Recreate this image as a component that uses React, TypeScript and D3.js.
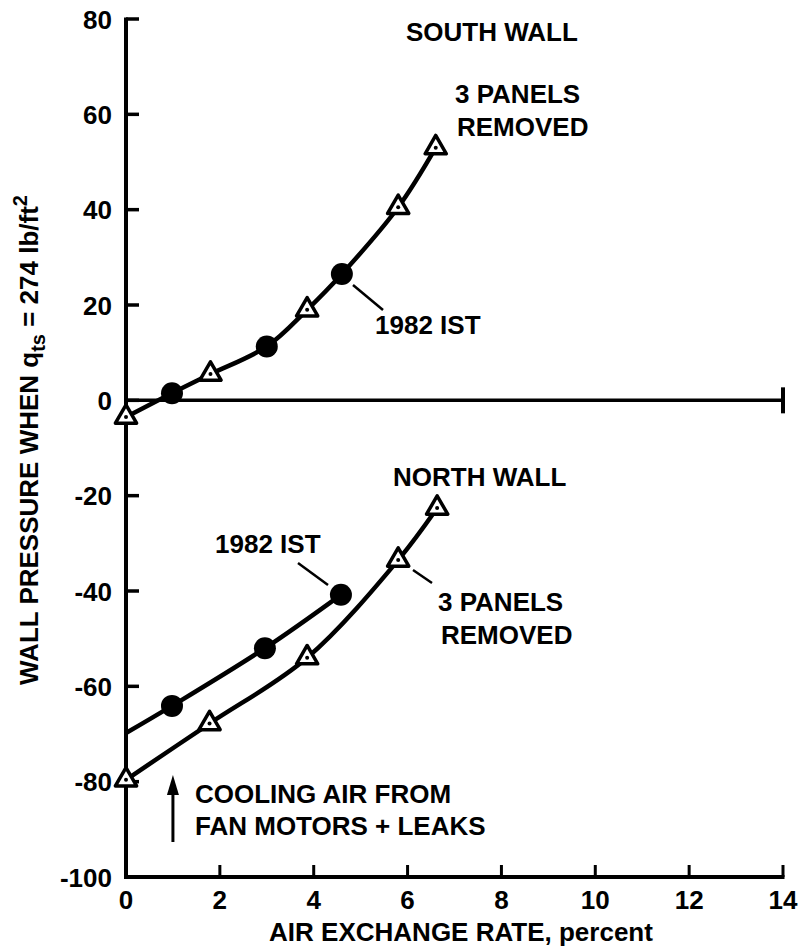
import React from "react";
import * as d3 from "d3";

// Air exchange rate (percent) and wall pressure (lb/ft^2) readings
const southPanelsX = [0, 1.8, 3.86, 5.8, 6.6];
const southPanelsY = [-3.5, 5.5, 19.0, 40.5, 53];
const southIstX = [0.98, 3.0, 4.6];
const southIstY = [1.5, 11.3, 26.5];

const northPanelsX = [0, 1.78, 3.86, 5.8, 6.63];
const northPanelsY = [-79.6, -67.8, -54, -33.5, -22.6];
const northIstX = [0.98, 2.96, 4.58];
const northIstY = [-64.1, -52, -40.8];
// Fitted 1982 IST north-wall curve starts on the pressure axis
const northIstStart = { x: 0, y: -69.8 };

const xTicks = [0, 2, 4, 6, 8, 10, 12, 14];
const yTicks = [80, 60, 40, 20, 0, -20, -40, -60, -80, -100];

const W = 800;
const H = 951;
const FONT = "'Liberation Sans', Arial, Helvetica, sans-serif";

export default function App() {
  const x = d3.scaleLinear().domain([0, 14]).range([126, 783]);
  const y = d3.scaleLinear().domain([-100, 80]).range([877, 19]);

  const line = d3
    .line<{ x: number; y: number }>()
    .x((d) => x(d.x))
    .y((d) => y(d.y))
    .curve(d3.curveCatmullRom.alpha(0.5));

  const zip = (xs: number[], ys: number[]) => xs.map((v, i) => ({ x: v, y: ys[i] }));

  const southAll = [...zip(southPanelsX, southPanelsY), ...zip(southIstX, southIstY)].sort(
    (a, b) => a.x - b.x
  );
  const northPanels = zip(northPanelsX, northPanelsY);
  const northIst = [northIstStart, ...zip(northIstX, northIstY)];

  const tri = d3.symbol().type(d3.symbolTriangle).size(195)();

  const triangles = [...zip(southPanelsX, southPanelsY), ...northPanels];
  const circles = [...zip(southIstX, southIstY), ...zip(northIstX, northIstY)];

  const textStyle = {
    fontFamily: FONT,
    fontWeight: 700,
    fontSize: 26,
    fill: "#000",
  } as const;

  const axisX0 = x(0);
  const axisY0 = y(-100);

  return (
    <svg
      width={W}
      height={H}
      style={{ position: "absolute", left: 0, top: 0, background: "#fff" }}
    >
      {/* pressure axis */}
      <line x1={axisX0} x2={axisX0} y1={y(80) - 1.5} y2={axisY0 + 1.5} stroke="#000" strokeWidth={4} />
      {yTicks.map((t) => (
        <g key={"yt" + t}>
          {t !== -100 && (
            <line x1={axisX0} x2={axisX0 + 13} y1={y(t)} y2={y(t)} stroke="#000" strokeWidth={3.5} />
          )}
          <text x={112} y={y(t) + 9.5} textAnchor="end" style={textStyle}>
            {t}
          </text>
        </g>
      ))}

      {/* exchange-rate axis */}
      <line x1={axisX0 - 2} x2={x(14) + 1.5} y1={axisY0} y2={axisY0} stroke="#000" strokeWidth={4} />
      {xTicks.map((t) => (
        <g key={"xt" + t}>
          {t !== 0 && (
            <line x1={x(t)} x2={x(t)} y1={axisY0} y2={axisY0 - 12} stroke="#000" strokeWidth={3} />
          )}
          <text x={x(t)} y={909} textAnchor="middle" style={textStyle}>
            {t}
          </text>
        </g>
      ))}

      {/* zero-pressure reference line */}
      <line x1={axisX0} x2={x(14)} y1={y(0)} y2={y(0)} stroke="#000" strokeWidth={3.5} />
      <line x1={x(14)} x2={x(14)} y1={y(0) - 13} y2={y(0) + 13} stroke="#000" strokeWidth={4} />

      {/* fitted curves */}
      <path d={line(southAll) ?? ""} fill="none" stroke="#000" strokeWidth={4.5} />
      <path d={line(northPanels) ?? ""} fill="none" stroke="#000" strokeWidth={4.5} />
      <path d={line(northIst) ?? ""} fill="none" stroke="#000" strokeWidth={4.5} />

      {/* 3 panels removed: open triangles */}
      {triangles.map((d, i) => (
        <g key={"tr" + i} transform={`translate(${x(d.x)},${y(d.y)})`}>
          <path d={tri ?? ""} fill="#fff" stroke="#000" strokeWidth={3.5} strokeLinejoin="round" />
          <circle r={2} fill="#000" />
        </g>
      ))}

      {/* 1982 IST: filled circles */}
      {circles.map((d, i) => (
        <circle key={"ci" + i} cx={x(d.x)} cy={y(d.y)} r={11} fill="#000" />
      ))}

      {/* annotations */}
      <text x={406} y={41} style={textStyle}>SOUTH WALL</text>
      <text x={455} y={103} style={textStyle}>3 PANELS</text>
      <text x={457} y={136} style={textStyle}>REMOVED</text>

      <line x1={353} x2={383} y1={285} y2={310} stroke="#000" strokeWidth={2.5} />
      <text x={375} y={334} style={textStyle}>1982 IST</text>

      <text x={393} y={486} style={textStyle}>NORTH WALL</text>

      <text x={215} y={553} style={textStyle}>1982 IST</text>
      <line x1={298} x2={328} y1={563} y2={585} stroke="#000" strokeWidth={2.5} />

      <line x1={413} x2={432} y1={570} y2={583} stroke="#000" strokeWidth={2.5} />
      <text x={438} y={611} style={textStyle}>3 PANELS</text>
      <text x={441} y={644} style={textStyle}>REMOVED</text>

      <line x1={x(1)} x2={x(1)} y1={842} y2={790} stroke="#000" strokeWidth={3} />
      <path d={`M${x(1)},775 L${x(1) - 6},795 L${x(1) + 6},795 Z`} fill="#000" />
      <text x={195} y={803} style={textStyle}>COOLING AIR FROM</text>
      <text x={195} y={835} style={textStyle}>FAN MOTORS + LEAKS</text>

      {/* axis titles */}
      <text x={461} y={941} textAnchor="middle" style={textStyle}>
        AIR EXCHANGE RATE, percent
      </text>
      <text transform={`translate(38,440) rotate(-90)`} textAnchor="middle" style={textStyle}>
        WALL PRESSURE WHEN q
        <tspan fontSize={20} dy={7}>ts</tspan>
        <tspan dy={-7}> = 274 lb/ft</tspan>
        <tspan fontSize={20} dy={-11}>2</tspan>
      </text>
    </svg>
  );
}
